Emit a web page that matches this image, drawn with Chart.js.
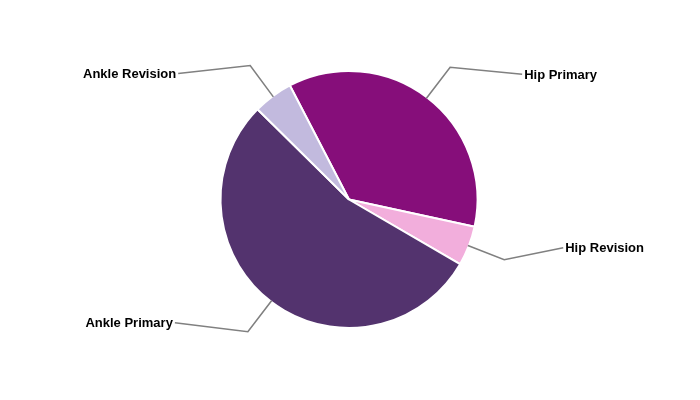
<!DOCTYPE html>
<html>
<head>
<meta charset="utf-8">
<script src="https://cdn.jsdelivr.net/npm/chart.js@4"></script>
<style>
  html, body { margin: 0; padding: 0; background: #fff; }
  #wrap { width: 700px; height: 400px; }
</style>
</head>
<body>
<div id="wrap"><canvas id="pieChart"></canvas></div>
<script>
// Chart data
const categories = ['Hip Primary', 'Hip Revision', 'Ankle Primary', 'Ankle Revision'];
const shares = [36, 5, 54, 5];
const sliceColors = ['#860E7A', '#F2AEDC', '#53336E', '#C2BADE'];

// where each label sits relative to the elbow of its leader line
const labelOffsets = [[72, 7], [59, -12], [-73, -9], [-72, 8]];

// Leader lines + labels drawn after the pie
const leaderLabels = {
    id: 'leaderLabels',
    afterDatasetsDraw(chart) {
        const ctx = chart.ctx;
        const meta = chart.getDatasetMeta(0);
        ctx.save();
        meta.data.forEach((arc, i) => {
            const mid = (arc.startAngle + arc.endAngle) / 2;
            const r = arc.outerRadius;
            const x0 = arc.x + Math.cos(mid) * (r - 1);
            const y0 = arc.y + Math.sin(mid) * (r - 1);
            const x1 = arc.x + Math.cos(mid) * (r + 38);
            const y1 = arc.y + Math.sin(mid) * (r + 38);
            const x2 = x1 + labelOffsets[i][0];
            const y2 = y1 + labelOffsets[i][1];

            ctx.beginPath();
            ctx.moveTo(x0, y0);
            ctx.lineTo(x1, y1);
            ctx.lineTo(x2, y2);
            ctx.strokeStyle = '#808080';
            ctx.lineWidth = 1.6;
            ctx.stroke();

            const right = labelOffsets[i][0] > 0;
            ctx.fillStyle = '#000';
            ctx.font = 'bold 13px "Liberation Sans", Arial, sans-serif';
            ctx.textBaseline = 'middle';
            ctx.textAlign = right ? 'left' : 'right';
            ctx.fillText(categories[i], x2 + (right ? 2 : -2), y2 + 1);
        });
        ctx.restore();
    }
};

new Chart(document.getElementById('pieChart'), {
    type: 'pie',
    data: {
        labels: categories,
        datasets: [{
            data: shares,
            backgroundColor: sliceColors,
            borderColor: '#ffffff',
            borderWidth: 2
        }]
    },
    options: {
        responsive: true,
        maintainAspectRatio: false,
        animation: false,
        rotation: -27.4,
        layout: {
            padding: { left: 0, right: 2, top: 70, bottom: 71 }
        },
        plugins: {
            legend: { display: false },
            tooltip: { enabled: false }
        }
    },
    plugins: [leaderLabels]
});
</script>
</body>
</html>
